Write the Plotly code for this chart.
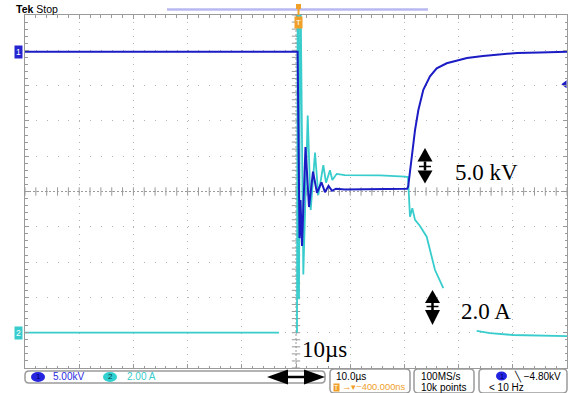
import plotly.graph_objects as go

# Channel 1: voltage, kV  (5.00 kV/div, ground marker at +4 div)
ch1_t = [-50, 0.3, 0.65, 0.83, 1.11, 1.75, 2.40, 3.14, 3.87, 4.70, 5.35, 6.00, 6.64,
         7.38, 9.0, 15.5, 20.5, 20.7, 21.35, 21.96, 22.57, 23.49, 24.72, 25.96, 27.8,
         31.55, 34.5, 37.6, 40.8, 45.0, 50]
ch1_kV = [-0.2, -0.2, -26.6, -21.2, -27.7, -13.7, -22.2, -17.2, -20.2, -18.7, -20.1,
          -19.2, -19.9, -19.6, -19.7, -19.6, -19.6, -19.3, -15.1, -11.3, -8.5, -5.6,
          -3.7, -2.55, -1.84, -1.09, -0.8, -0.6, -0.38, -0.3, -0.2]

# Channel 2: current, A  (2.00 A/div, ground marker at -4 div)
ch2_t = [-50, -3.14, None, 0.18, 0.33, 0.55, 0.79, 1.35, 2.16, 2.71, 3.51, 4.11, 5.04,
         5.54, 6.27, 6.70, 7.51, 9.0, 15.5, 20.1, 20.66, 21.03, 21.46, 21.96, 22.88,
         24.11, 24.72, 25.65, 27.18, None, 33.34, 35.79, 40.04, 50]
ch2_A = [0.0, 0.0, None, 0.0, 22.0, 1.9, 21.0, 3.3, 12.3, 6.95, 10.2, 7.8, 9.5, 8.5,
         9.2, 8.65, 9.0, 8.93, 8.91, 8.84, 8.82, 6.57, 7.05, 6.39, 6.05, 5.44, 4.69,
         3.55, 2.52, None, 0.11, -0.03, -0.13, -0.19]

ch1_scale, ch1_pos = 5.0, 4.0     # kV/div, div
ch2_scale, ch2_pos = 2.0, -4.0    # A/div, div
trig_level_kV = -4.80
time_per_div = 10.0               # us/div

C1 = "#1c1cc4"
C2 = "#38cccc"
ORANGE = "#f0a028"
GRID = "#b4b4b4"
FRAME = "#9a9a9a"

def div1(v):
    return None if v is None else v / ch1_scale + ch1_pos

def div2(v):
    return None if v is None else v / ch2_scale + ch2_pos

# pixel -> paper helpers (plot area 25..567 x 15..368)
L, R, T, B = 25, 567, 15, 368
def px(x):
    return (x - L) / (R - L)
def py(y):
    return (B - y) / (B - T)

fig = go.Figure()

# center cross tick marks
xt = [i * time_per_div / 5 for i in range(-25, 26)]
yt = [i / 5 for i in range(-25, 26)]
fig.add_trace(go.Scatter(x=xt, y=[0] * len(xt), mode="markers", hoverinfo="skip",
                         marker=dict(symbol="line-ns", size=6, line=dict(width=1, color=FRAME))))
fig.add_trace(go.Scatter(x=[0] * len(yt), y=yt, mode="markers", hoverinfo="skip",
                         marker=dict(symbol="line-ew", size=6, line=dict(width=1, color=FRAME))))

fig.add_trace(go.Scatter(x=ch2_t, y=[div2(v) for v in ch2_A], mode="lines",
                         line=dict(color=C2, width=1.8), hoverinfo="skip"))
fig.add_trace(go.Scatter(x=ch1_t, y=[div1(v) for v in ch1_kV], mode="lines",
                         line=dict(color=C1, width=2), hoverinfo="skip"))
# trigger level marker at right edge
fig.add_trace(go.Scatter(x=[5 * time_per_div - 0.4], y=[div1(trig_level_kV)], mode="markers",
                         cliponaxis=False, hoverinfo="skip",
                         marker=dict(symbol="triangle-left", size=7, color=C1)))

shapes = []
# center lines
shapes.append(dict(type="line", xref="x", yref="y", x0=-50, x1=50, y0=0, y1=0,
                   line=dict(color=FRAME, width=1, dash="2px,2px"), layer="below"))
shapes.append(dict(type="line", xref="x", yref="y", x0=0, x1=0, y0=-5, y1=5,
                   line=dict(color=FRAME, width=1, dash="2px,2px"), layer="below"))

def path(points, close=True):
    s = "M " + " L ".join(f"{px(a):.5f},{py(b):.5f}" for a, b in points)
    return s + (" Z" if close else "")

def rrect(x0, y0, x1, y1, r):
    def P(a, b):
        return f"{px(a):.5f},{py(b):.5f}"
    s = (f"M {P(x0 + r, y0)} L {P(x1 - r, y0)} Q {P(x1, y0)} {P(x1, y0 + r)} "
         f"L {P(x1, y1 - r)} Q {P(x1, y1)} {P(x1 - r, y1)} L {P(x0 + r, y1)} "
         f"Q {P(x0, y1)} {P(x0, y1 - r)} L {P(x0, y0 + r)} Q {P(x0, y0)} {P(x0 + r, y0)} Z")
    return s

def tri(a, b, c):
    shapes.append(dict(type="path", xref="paper", yref="paper", path=path([a, b, c]),
                       fillcolor="black", line=dict(width=0)))

def seg(x0, y0, x1, y1, w=2, color="black"):
    shapes.append(dict(type="line", xref="paper", yref="paper", x0=px(x0), x1=px(x1),
                       y0=py(y0), y1=py(y1), line=dict(color=color, width=w)))

# vertical double arrows
for cx, ytip, ybase1, ybar, ybase2, ybot in [(425, 148, 161.5, 166.5, 170.5, 183.5),
                                              (432.5, 290, 303, 306.5, 310, 325)]:
    tri((cx, ytip), (cx - 7.5, ybase1), (cx + 7.5, ybase1))
    tri((cx, ybot), (cx - 7.5, ybase2), (cx + 7.5, ybase2))
    seg(cx, ybase1, cx, ybase2, 2.5)
    seg(cx - 6, ybar, cx + 6, ybar, 1.5)

# status boxes
for (x0, y0, x1, y1) in [(25, 371, 325, 383), (330, 369, 410, 393), (414, 369, 474, 393),
                          (479, 369, 567, 393)]:
    shapes.append(dict(type="path", xref="paper", yref="paper", path=rrect(x0, y0, x1, y1, 4),
                       line=dict(color=FRAME, width=1.5), fillcolor="white"))

# horizontal double arrow
tri((267, 377), (288, 369.5), (288, 384.5))
tri((325, 377), (304, 369.5), (304, 384.5))
seg(287, 377, 305, 377, 2.5)

# channel badges in status bar
for (x0, x1, y0, y1, col) in [(31, 45, 372, 382, "#2424e0"), (103, 117, 372, 382, "#30d0d0"),
                               (496, 507, 371.5, 380.5, "#2424e0")]:
    shapes.append(dict(type="circle", xref="paper", yref="paper", x0=px(x0), x1=px(x1),
                       y0=py(y1), y1=py(y0), fillcolor=col, line=dict(width=0)))

# top lavender bar and trigger marker
seg(167, 9.5, 428, 9.5, 2.5, "#b8b8f0")
seg(298.5, 4, 298.5, 15, 2, ORANGE)
shapes.append(dict(type="rect", xref="paper", yref="paper", x0=px(296), x1=px(301),
                   y0=py(9), y1=py(4), fillcolor=ORANGE, line=dict(width=0)))

ann = []
def text(x, y, s, size=9.5, color="black", xanchor="left", family="Liberation Sans", **kw):
    ann.append(dict(x=px(x), y=py(y), xref="paper", yref="paper", text=s, showarrow=False,
                    xanchor=xanchor, yanchor="middle",
                    font=dict(size=size, color=color, family=family), **kw))

text(14, 9, "<b>Tek</b> Stop", 10.5)
text(298.5, 22, "T", 8, "white", "center", bgcolor=ORANGE, borderpad=1)
text(18, 52, "1", 8.5, "white", "center", bgcolor="#2424d0", borderpad=1)
text(18, 333, "2", 8.5, "white", "center", bgcolor=C2, borderpad=1)

text(38, 377, "1", 8, "#000060", "center")
text(51, 377, "5.00kV", 10, "#2a2ae0")
text(110, 377, "2", 8, "#004040", "center")
text(125, 377, "2.00 A", 10, C2)
text(334, 376, "10.0µs", 10)
text(333, 387, "T", 7, "white", bgcolor=ORANGE, borderpad=0)
text(340, 387, "→▾−400.000ns", 9.3, ORANGE)
text(419, 376, "100MS/s", 10)
text(419, 387, "10k points", 10)
text(501.5, 376, "1", 7.5, "#000060", "center")
text(512, 376, "╲ −4.80kV", 10)
text(487, 387, "< 10 Hz", 10)

text(453, 172, "5.0 kV", 23, family="Liberation Serif")
text(459, 311, "2.0 A", 23, family="Liberation Serif")
text(300, 349, "10µs", 23, family="Liberation Serif")

axis_common = dict(showticklabels=False, showline=True, linecolor=FRAME, linewidth=1,
                   mirror="ticks", ticks="inside", tickcolor=FRAME, ticklen=4,
                   zeroline=False, showgrid=True, gridcolor=GRID, gridwidth=1, fixedrange=True)
fig.update_xaxes(range=[-5 * time_per_div, 5 * time_per_div], dtick=time_per_div,
                 griddash="1px,6.06px",
                 minor=dict(ticks="inside", dtick=time_per_div / 5, ticklen=2.5,
                            tickcolor=FRAME, showgrid=False),
                 **axis_common)
fig.update_yaxes(range=[-5, 5], dtick=1, griddash="1px,9.84px",
                 minor=dict(ticks="inside", dtick=0.2, ticklen=2.5, tickcolor=FRAME,
                            showgrid=False),
                 **axis_common)

fig.update_layout(width=572, height=393, margin=dict(l=25, r=5, t=15, b=25),
                  paper_bgcolor="white", plot_bgcolor="white", showlegend=False,
                  shapes=shapes, annotations=ann)

fig.write_html("out.html", config={"displayModeBar": False},
               post_script="document.body.style.margin='0';document.body.style.overflow='hidden';")
